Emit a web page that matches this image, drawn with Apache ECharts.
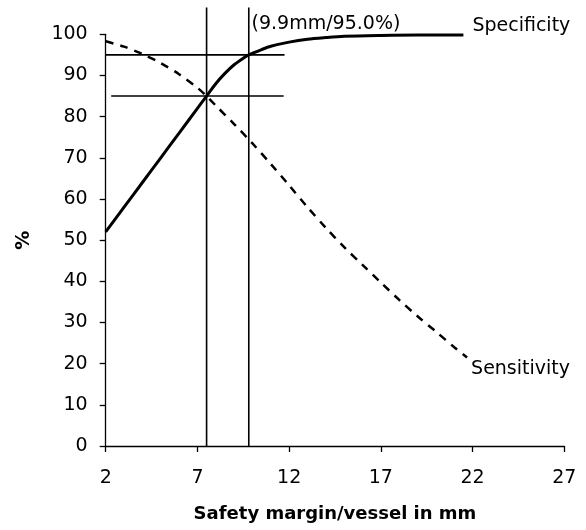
<!DOCTYPE html>
<html>
<head>
<meta charset="utf-8">
<script src="https://cdn.jsdelivr.net/npm/echarts@6/dist/echarts.min.js"></script>
<style>
  html, body { margin: 0; padding: 0; background: #fff; }
  #chart { width: 586px; height: 530px; }
</style>
</head>
<body>
<div id="chart"></div>
<script>
// values
const specX = [2, 3, 4, 5, 6, 7, 7.5, 8, 8.5, 9, 9.5, 9.8, 10.5, 11, 12, 13, 14, 15, 17, 19, 21.5]
const specY = [52, 58, 64, 70, 76, 82, 85, 88, 90.5, 92.6, 94.2, 95, 96.3, 97.1, 98.1, 98.8, 99.2, 99.5, 99.7, 99.8, 99.8]
const sensX = [2, 3, 4, 5, 6, 7, 7.5, 8, 9, 10, 11, 12, 13, 14, 15, 16, 17, 18, 19, 20, 21, 21.7]
const sensY = [98.3, 97, 95.2, 93, 90.3, 87, 85, 82.7, 78.2, 73.5, 68.5, 63.3, 58, 53, 48.3, 44, 39.7, 35.5, 31.5, 27.8, 24, 21.5]
const cutX = [7.5, 9.8]        // vertical reference lines
const cutTop = 106.5
const levelY = [85, 95]        // horizontal reference lines
const levelFrom = [2.3, 2]
const levelTo = [11.7, 11.75]
const xTicks = [2, 7, 12, 17, 22, 27]
const noteText = '(9.9mm/95.0%)'
const notePos = [9.95, 102.4]

const chart = echarts.init(document.getElementById('chart'))
const font = 'DejaVu Sans'

let series = []
series.push({
  name: 'Specificity',
  type: 'line',
  smooth: 0.3,
  symbol: 'none',
  data: specX.map((x, i) => [x, specY[i]]),
  lineStyle: { color: '#000', width: 3 },
  endLabel: {
    show: true, formatter: 'Specificity', color: '#000',
    fontFamily: font, fontSize: 19, distance: 9, offset: [0, -9]
  },
  z: 5
})
series.push({
  name: 'Sensitivity',
  type: 'line',
  smooth: 0.3,
  symbol: 'none',
  data: sensX.map((x, i) => [x, sensY[i]]),
  lineStyle: { color: '#000', width: 2.5, type: [8, 7] },
  endLabel: {
    show: true, formatter: 'Sensitivity', color: '#000',
    fontFamily: font, fontSize: 19, distance: 4, offset: [0, 12]
  },
  z: 5
})
cutX.forEach(x => {
  series.push({
    type: 'line', symbol: 'none', clip: false, silent: true,
    data: [[x, 0], [x, cutTop]],
    lineStyle: { color: '#000', width: 1.6 }
  })
})
levelY.forEach((y, i) => {
  series.push({
    type: 'line', symbol: 'none', clip: false, silent: true,
    data: [[levelFrom[i], y], [levelTo[i], y]],
    lineStyle: { color: '#000', width: 1.6 }
  })
})
// annotation text next to the 95% cut-off
series.push({
  type: 'scatter', symbolSize: 0, clip: false, silent: true,
  data: [notePos],
  itemStyle: { opacity: 1 },
  label: {
    show: true, position: 'right', distance: 0, formatter: noteText,
    color: '#000', fontFamily: font, fontSize: 19
  }
})

const option = {
  animation: false,
  grid: { left: 105.7, right: 21.7, top: 34.3, bottom: 84 },
  xAxis: {
    type: 'value', min: 2, max: 27, interval: 5,
    name: 'Safety margin/vessel in mm',
    nameLocation: 'middle', nameGap: 59,
    nameTextStyle: { fontFamily: font, fontSize: 18, fontWeight: 'bold', color: '#000' },
    axisLine: { show: true, lineStyle: { color: '#000', width: 1.3 } },
    axisTick: { show: true, length: 6, lineStyle: { color: '#000', width: 1.3 } },
    axisLabel: {
      margin: 23, fontFamily: font, fontSize: 19, color: '#000',
      customValues: xTicks
    },
    splitLine: { show: false }
  },
  yAxis: {
    type: 'value', min: 0, max: 100, interval: 10,
    name: '%',
    nameLocation: 'middle', nameGap: 72, nameRotate: 90,
    nameTextStyle: { fontFamily: font, fontSize: 19, fontWeight: 'bold', color: '#000' },
    axisLine: { show: true, lineStyle: { color: '#000', width: 1.3 } },
    axisTick: { show: true, length: 6, lineStyle: { color: '#000', width: 1.3 } },
    axisLabel: { margin: 18, fontFamily: font, fontSize: 19, color: '#000' },
    splitLine: { show: false }
  },
  series: series
}
option && chart.setOption(option)
</script>
</body>
</html>
